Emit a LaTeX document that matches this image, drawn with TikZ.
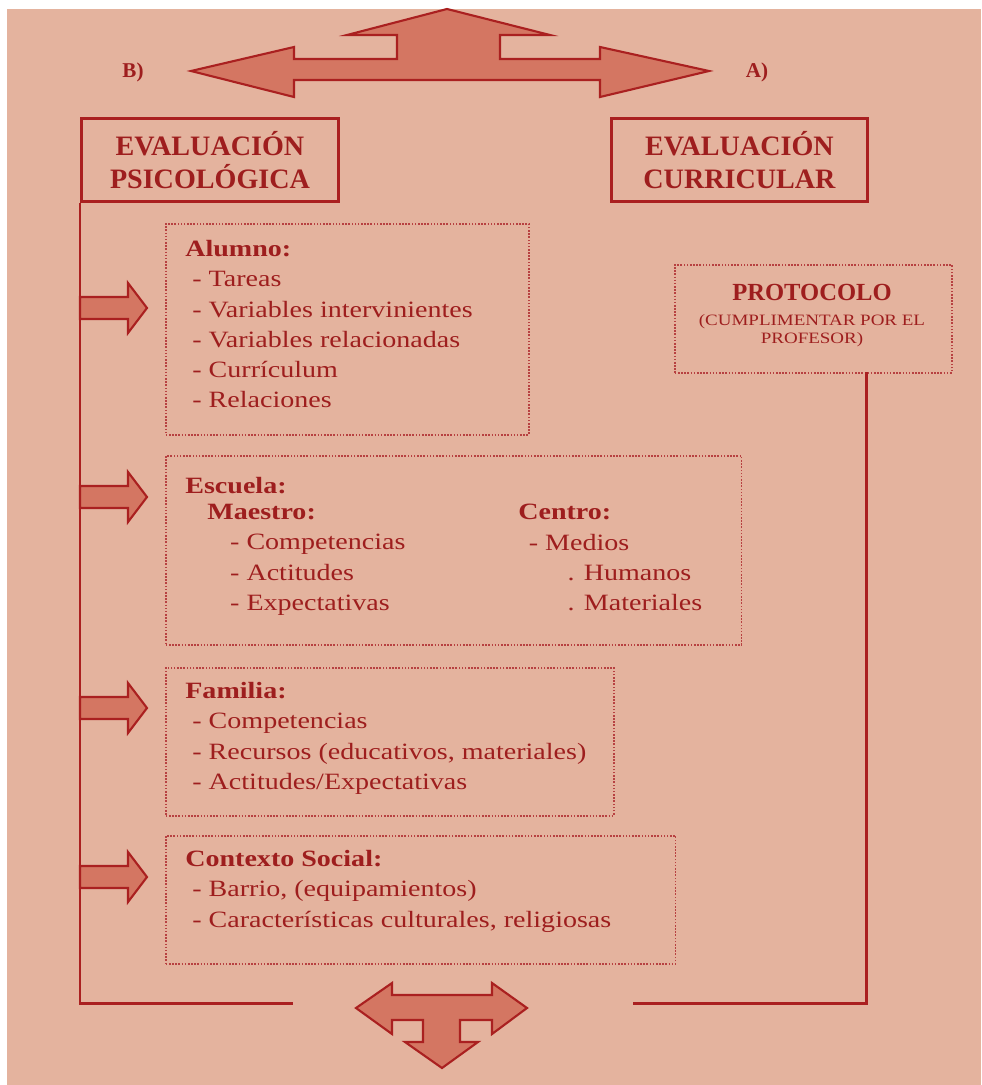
\documentclass[tikz,border=0pt]{standalone}
\usepackage{fontspec}
\setmainfont{Liberation Serif}
\newfontfamily\widefont{Liberation Serif}[FakeStretch=1.2]
\usetikzlibrary{arrows}

\definecolor{bgpink}{RGB}{228,179,158}
\definecolor{linered}{RGB}{170,32,32}
\definecolor{textred}{RGB}{158,30,30}
\definecolor{arrowfill}{RGB}{212,118,98}

\tikzstyle{titlebox} = [rectangle, anchor=north west, minimum width=5.14cm, minimum height=1.66cm, align=center, draw=linered, line width=1.7pt, text=textred, font=\fontsize{16}{18.7}\selectfont\bfseries]
\tikzstyle{listbox} = [rectangle, anchor=north west, draw=linered!85, line width=0.9pt, dash pattern=on 0.9pt off 0.9pt]
\tikzstyle{listtext} = [anchor=north west, inner sep=0pt, align=left, text=textred, font=\widefont\fontsize{13.3}{17.2}\selectfont]
\tikzstyle{sidelabel} = [text=textred, font=\fontsize{12}{14}\selectfont\bfseries]
\tikzstyle{blockarrow} = [draw=linered, fill=arrowfill, line width=1.2pt, line join=miter]
\tikzstyle{frameline} = [draw=linered, line width=1.7pt]

\begin{document}
\begin{tikzpicture}[x=0.02cm, y=-0.02cm]
    \useasboundingbox (0,0) rectangle (981,1085);
    \fill[white] (0,0) rectangle (981,1085);
    \fill[bgpink] (7,9) rectangle (981,1085);

    % Top arrow
    \draw[blockarrow] (447,9) -- (550,35) -- (500,35) -- (500,59) -- (600,59) -- (600,47)
        -- (709,71) -- (600,97) -- (600,80) -- (294,80) -- (294,97) -- (191,71)
        -- (294,47) -- (294,59) -- (397,59) -- (397,35) -- (347,35) -- cycle;

    % Nodes
    \node (labB) [sidelabel] at (133,72) {B)};
    \node (labA) [sidelabel] at (757,72) {A)};
    \node (psic) [titlebox] at (80,117) {EVALUACIÓN\\PSICOLÓGICA};
    \node (curr) [titlebox, minimum width=5.12cm] at (610,117) {EVALUACIÓN\\CURRICULAR};

    \node (proto) [listbox, minimum width=5.54cm, minimum height=2.16cm] at (674,264) {};
    \node (protoT) [text=textred, font=\fontsize{14}{16}\selectfont\bfseries] at (812,292) {PROTOCOLO};
    \node (protoS) [text=textred, align=center, font=\widefont\fontsize{9}{10.2}\selectfont] at (812,331) {(CUMPLIMENTAR POR EL\\PROFESOR)};

    \node (alumno) [listbox, minimum width=7.26cm, minimum height=4.22cm] at (165,223) {};
    \node (escuela) [listbox, minimum width=11.52cm, minimum height=3.78cm] at (165,455) {};
    \node (familia) [listbox, minimum width=8.96cm, minimum height=2.96cm] at (165,667) {};
    \node (contexto) [listbox, minimum width=10.2cm, minimum height=2.56cm] at (165,835) {};

    \node (alumnoT) [listtext] at (185,240) {\textbf{Alumno:}\\\hspace*{4pt}- Tareas\\\hspace*{4pt}- Variables intervinientes\\\hspace*{4pt}- Variables relacionadas\\\hspace*{4pt}- Currículum\\\hspace*{4pt}- Relaciones};
    \node (escuelaT) [listtext] at (185,477) {\textbf{Escuela:}};
    \node (maestroT) [listtext] at (207,504) {\textbf{Maestro:}\\\hspace*{13pt}- Competencias\\\hspace*{13pt}- Actitudes\\\hspace*{13pt}- Expectativas};
    \node (centroT) [listtext] at (518,504) {\textbf{Centro:}\\\hspace*{6pt}- Medios\\\hspace*{28pt}. Humanos\\\hspace*{28pt}. Materiales};
    \node (familiaT) [listtext] at (185,682) {\textbf{Familia:}\\\hspace*{4pt}- Competencias\\\hspace*{4pt}- Recursos (educativos, materiales)\\\hspace*{4pt}- Actitudes/Expectativas};
    \node (contextoT) [listtext] at (185,850) {\textbf{Contexto Social:}\\\hspace*{4pt}- Barrio, (equipamientos)\\\hspace*{4pt}- Características culturales, religiosas};

    \coordinate (lend) at (293,1003);
    \coordinate (rtop) at (866,372);
    \coordinate (rend) at (633,1003);

    % Lines
    \draw[frameline] (psic.south west) |- (lend);
    \draw[frameline] (rtop) |- (rend);

    % Side arrows
    \foreach \y in {308,497,708,877}
        \draw[blockarrow] (80,{\y-11}) -- (128,{\y-11}) -- (128,{\y-25}) -- (147,\y)
            -- (128,{\y+25}) -- (128,{\y+11}) -- (80,{\y+11}) -- cycle;

    % Bottom arrow
    \draw[blockarrow] (356,1008) -- (392,983) -- (392,995) -- (492,995) -- (492,983)
        -- (527,1008) -- (492,1034) -- (492,1020) -- (460,1020) -- (460,1042)
        -- (478,1042) -- (442,1068) -- (405,1042) -- (423,1042) -- (423,1020)
        -- (392,1020) -- (392,1034) -- cycle;
\end{tikzpicture}
\end{document}
